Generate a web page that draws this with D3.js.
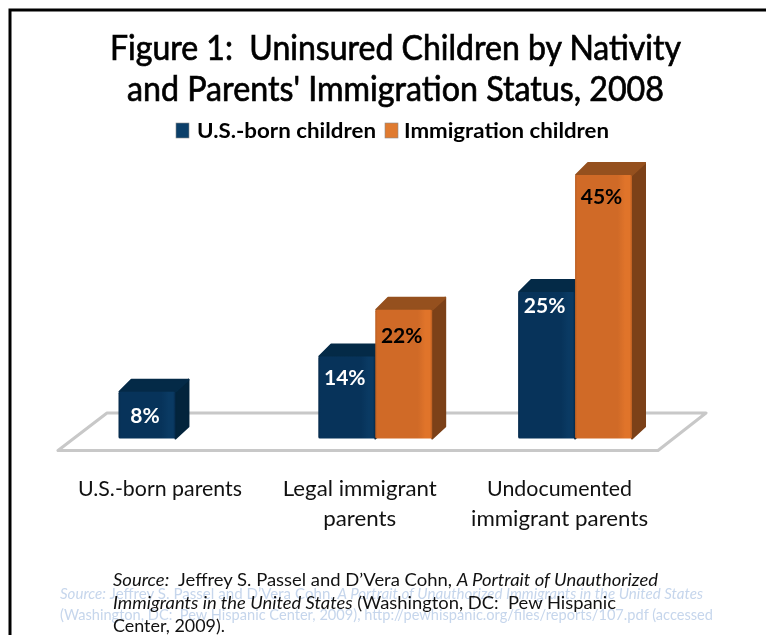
<!DOCTYPE html>
<html>
<head>
<meta charset="utf-8">
<script src="https://cdnjs.cloudflare.com/ajax/libs/d3/7.8.5/d3.min.js"></script>
<style>
html, body { margin: 0; padding: 0; background: #fff; overflow: hidden; }
svg { display: block; filter: blur(0.35px); }
text { font-family: Lato, "Open Sans", sans-serif; white-space: pre; }
</style>
</head>
<body>
<svg id="chart" width="766" height="635"></svg>
<script>
var categories = ['U.S.-born parents', 'Legal immigrant parents', 'Undocumented immigrant parents'];
var seriesNames = ['U.S.-born children', 'Immigration children'];
var usBorn = [8, 14, 25];
var immigrant = [null, 22, 45];
var labelLines = [['U.S.-born parents'], ['Legal immigrant', 'parents'], ['Undocumented', 'immigrant parents']];

var svg = d3.select('#chart');
var baseY = 438.5;
var dx = 13, dy = 12;  // depth of the fake 3d

var x0 = d3.scaleBand().domain(categories).range([118.5, 632]).paddingInner(0.43);
var x1 = d3.scaleBand().domain(seriesNames).range([0, x0.bandwidth()]);
var y = d3.scaleLinear().domain([0, 45]).range([baseY, 175]);

var palette = [
    {edge: '#05294a', base: '#07335a', light: '#0a3a63', top: '#042a47', side: '#03243c', text: '#fff'},
    {edge: '#b95e22', base: '#d06a27', light: '#e0742a', top: '#95501e', side: '#7c4118', text: '#000'}
];

// front face gradients
var defs = svg.append('defs');
palette.forEach(function(p, i) {
    var g = defs.append('linearGradient').attr('id', 'front' + i);
    [[0, p.edge], [0.04, p.base], [0.75, p.base], [0.88, p.light], [0.96, p.light], [1, p.edge]].forEach(function(s) {
        g.append('stop').attr('offset', s[0]).attr('stop-color', s[1]);
    });
});

// frame
svg.append('path')
    .attr('d', 'M10,635V10H766')
    .attr('fill', 'none')
    .attr('stroke', '#000')
    .attr('stroke-width', 3);

// floor
svg.append('path')
    .attr('d', 'M58,450.5H658L706,413H107Z')
    .attr('fill', '#fff')
    .attr('stroke', '#c8c8c8')
    .attr('stroke-width', 3)
    .attr('stroke-linejoin', 'round');

var rows = [];
categories.forEach(function(c, i) {
    rows.push({cat: c, s: 0, v: usBorn[i]});
    if (immigrant[i] !== null) rows.push({cat: c, s: 1, v: immigrant[i]});
});

var bars = svg.selectAll('g.bar').data(rows).enter().append('g').attr('class', 'bar');

var poly = function(pts) { return 'M' + pts.join('L') + 'Z'; };
var left = function(d) { return x0(d.cat) + x1(seriesNames[d.s]); };

bars.append('path')  // side
    .attr('d', function(d) {
        var r = left(d) + x1.bandwidth(), t = y(d.v);
        return poly([[r, t], [r + dx, t - dy], [r + dx, baseY - dy], [r, baseY]]);
    })
    .attr('fill', function(d) { return palette[d.s].side; })
    .attr('stroke', function(d) { return palette[d.s].side; })
    .attr('stroke-width', 2)
    .attr('stroke-linejoin', 'round');

bars.append('path')  // top
    .attr('d', function(d) {
        var l = left(d), r = l + x1.bandwidth(), t = y(d.v);
        return poly([[l + 1, t], [l + dx, t - dy], [r + dx, t - dy], [r, t]]);
    })
    .attr('fill', function(d) { return palette[d.s].top; })
    .attr('stroke', function(d) { return palette[d.s].top; })
    .attr('stroke-width', 2)
    .attr('stroke-linejoin', 'round');

bars.append('rect')  // front
    .attr('x', left)
    .attr('y', function(d) { return y(d.v); })
    .attr('width', x1.bandwidth())
    .attr('height', function(d) { return baseY - y(d.v); })
    .attr('rx', 1.5)
    .attr('fill', function(d) { return 'url(#front' + d.s + ')'; });

// value labels, these sit at uneven distances below the bar top
var labelDrop = {8: 31, 14: 28, 22: 33, 25: 21, 45: 29};
bars.append('text')
    .attr('x', function(d) { return left(d) + x1.bandwidth() / 2 - 2; })
    .attr('y', function(d) { return y(d.v) + labelDrop[d.v]; })
    .attr('text-anchor', 'middle')
    .attr('font-size', 21)
    .attr('font-weight', 700)
    .attr('fill', function(d) { return palette[d.s].text; })
    .text(function(d) { return d.v + '%'; });

var fit = function(sel, w) { return sel.attr('textLength', w).attr('lengthAdjust', 'spacingAndGlyphs'); };

// category labels, one text per line so each can be fitted
var labelWidths = [[164], [154, 73], [145, 177]];
categories.forEach(function(c, i) {
    labelLines[i].forEach(function(line, j) {
        fit(svg.append('text')
            .attr('x', x0(c) + x0.bandwidth() / 2 - 15.5)
            .attr('y', 496 + j * 30)
            .attr('text-anchor', 'middle')
            .attr('font-size', 22)
            .attr('fill', '#111')
            .text(line), labelWidths[i][j]);
    });
});

// title
var titleLine = function(txt, px, py, w) {
    fit(svg.append('text').attr('x', px).attr('y', py).attr('font-size', 34)
        .attr('fill', '#000').attr('stroke', '#000').attr('stroke-width', 0.7)
        .text(txt), w);
};
titleLine('Figure 1:  Uninsured Children by Nativity', 110, 59.5, 571);
titleLine("and Parents' Immigration Status, 2008", 127, 100.5, 537);

// legend
var legend = [{x: 176, tx: 197, w: 179}, {x: 385, tx: 404, w: 205}];
legend.forEach(function(l, i) {
    svg.append('rect').attr('x', l.x).attr('y', 123).attr('width', 13).attr('height', 15)
        .attr('fill', i ? '#e07b30' : '#0b3f69').attr('stroke', '#8a8a8a').attr('stroke-width', 0.6);
    fit(svg.append('text').attr('x', l.tx).attr('y', 138).attr('font-size', 20).attr('font-weight', 700).text(seriesNames[i]), l.w);
});

// source note, the faded one is behind the black one
var faded = [
    [['Source: ', 1], ['Jeffrey S. Passel and D\u2019Vera Cohn, ', 0], ['A Portrait of Unauthorized Immigrants in the United States', 1]],
    [['(Washington, DC:  Pew Hispanic Center, 2009), http://pewhispanic.org/files/reports/107.pdf (accessed', 0]]
];
var source = [
    [['Source:', 1], ['  Jeffrey S. Passel and D\u2019Vera Cohn, ', 0], ['A Portrait of Unauthorized', 1]],
    [['Immigrants in the United States', 1], [' (Washington, DC:  Pew Hispanic', 0]],
    [['Center, 2009).', 0]]
];
var writeLine = function(parts, px, py, w, size, color) {
    var t = svg.append('text').attr('x', px).attr('y', py).attr('font-size', size).attr('fill', color);
    parts.forEach(function(p) {
        t.append('tspan').attr('font-style', p[1] ? 'italic' : 'normal').text(p[0]);
    });
    fit(t, w);
};
writeLine(faded[0], 60, 599, 643, 16, '#c6d6ec');
writeLine(faded[1], 60, 620, 653, 16, '#c6d6ec');
writeLine(source[0], 113, 586, 545, 18, '#111');
writeLine(source[1], 113, 609, 503, 18, '#111');
writeLine(source[2], 113, 632, 112, 18, '#111');
</script>
</body>
</html>
